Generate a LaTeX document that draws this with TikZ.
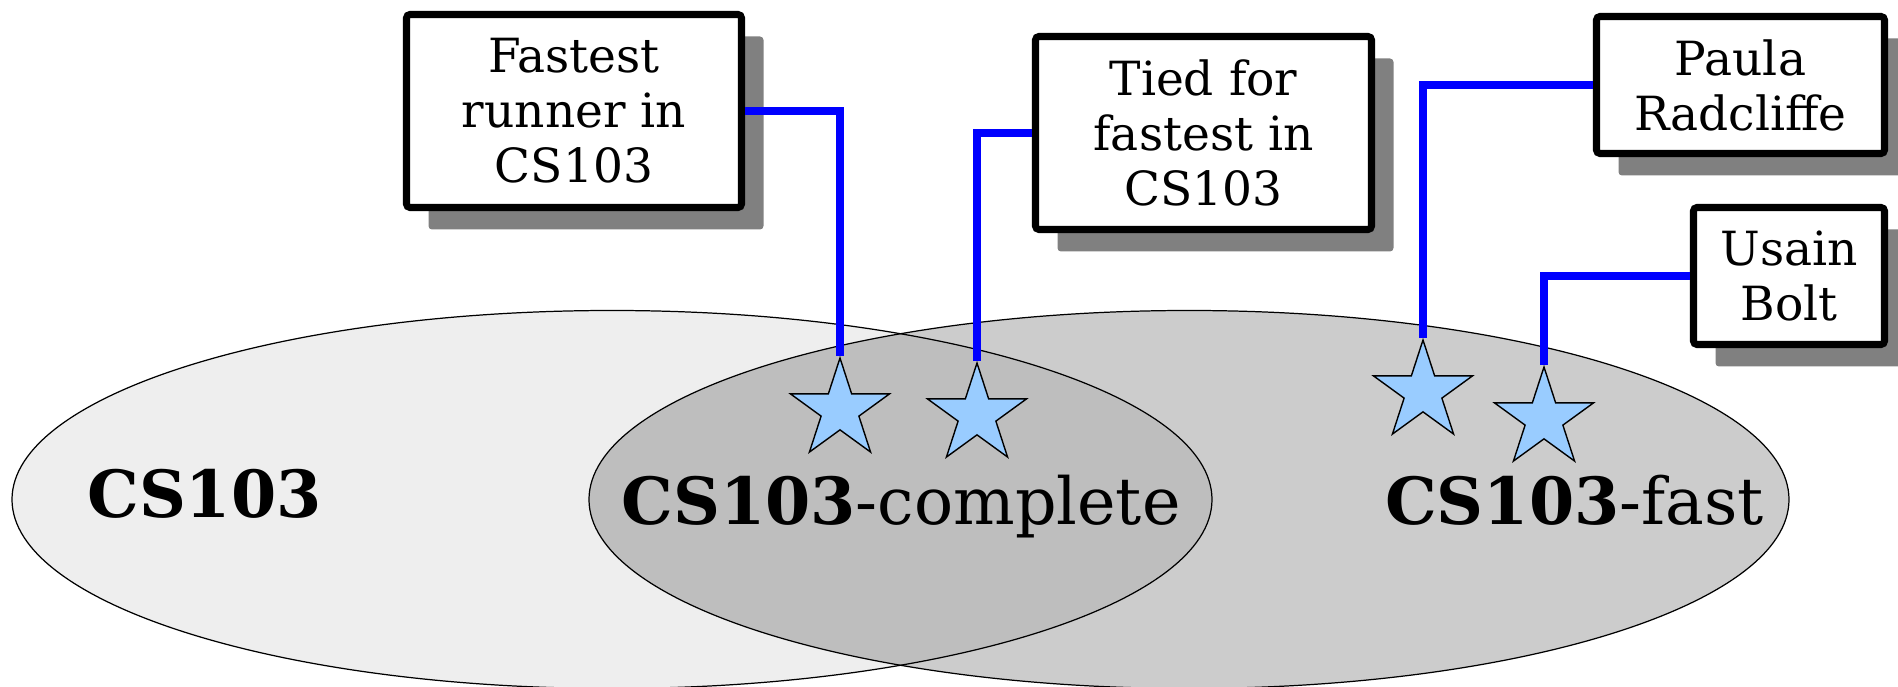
\documentclass[tikz,border=0pt]{standalone}
\usepackage{fontspec}
\setmainfont{DejaVu Serif}
\usetikzlibrary{shapes.geometric,shadows}
\definecolor{setlight}{HTML}{EEEEEE}
\definecolor{starblue}{HTML}{99CCFF}
\newcommand{\boxfont}{\fontsize{13.4}{15.65}\selectfont}
\newcommand{\setfont}{\fontsize{18.5}{22}\selectfont}

\begin{document}
\begin{tikzpicture}
[
callout/.style 2 args={draw,line width=2pt,fill=white,rounded corners=1pt,
            align=center,inner sep=0pt,font=\boxfont,
            minimum width=#1,minimum height=#2,
            drop shadow={shadow xshift=0.22cm,shadow yshift=-0.22cm,
                         fill=black!50,opacity=1}},
runner/.style={draw,star,star points=5,star point ratio=2.618,
            inner sep=0pt,minimum size=1.04cm,fill=starblue,line width=0.4pt},
wire/.style={draw=blue,line width=2pt},
setname/.style={anchor=base,font=\setfont},
]
\useasboundingbox (0,0) rectangle (18.98,6.87);

%The two sets
\draw[line width=0.35pt,fill=setlight] (6.12,1.875) ellipse (6cm and 1.89cm);
\draw[line width=0.35pt,fill=black,fill opacity=0.2] (11.89,1.875) ellipse (6cm and 1.89cm);

\node[setname] (all) at (2.045,1.69) {\textbf{CS103}};
\node[setname] (complete) at (9.01,1.62) {\textbf{CS103}-complete};
\node[setname] (fast) at (15.745,1.62) {\textbf{CS103}-fast};

%Place the nodes
\node[runner] (s1) at (8.40,2.77) {};
\node[runner] (s2) at (9.77,2.72) {};
\node[runner] (s3) at (14.23,2.95) {};
\node[runner] (s4) at (15.44,2.68) {};

\node[callout={3.35cm}{1.93cm}] (b1) at (5.74,5.76) {Fastest\\runner in\\CS103};
\node[callout={3.36cm}{1.93cm}] (b2) at (12.035,5.54) {Tied for\\fastest in\\CS103};
\node[callout={2.88cm}{1.37cm}] (b3) at (17.405,6.02) {Paula\\Radcliffe};
\node[callout={1.91cm}{1.37cm}] (b4) at (17.89,4.11) {Usain\\Bolt};

%Draw the connections
\draw[wire] (s1.north) |- (b1.east);
\draw[wire] (s2.north) |- (b2.west);
\draw[wire] (s3.north) |- (b3.west);
\draw[wire] (s4.north) |- (b4.west);
\end{tikzpicture}
\end{document}
